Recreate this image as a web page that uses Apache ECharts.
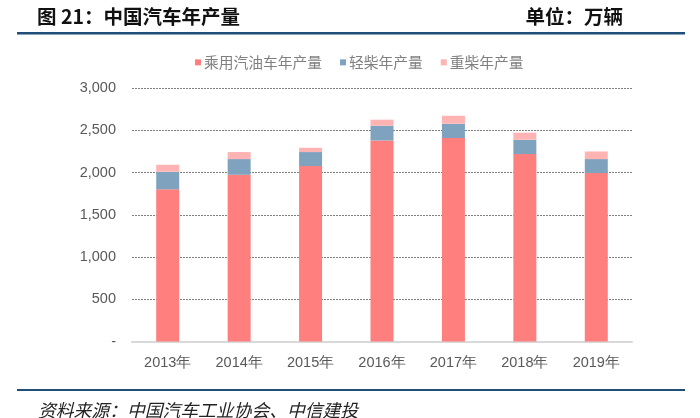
<!DOCTYPE html>
<html>
<head>
<meta charset="utf-8">
<script src="https://cdn.jsdelivr.net/npm/echarts@6/dist/echarts.min.js"></script>
<style>
html,body{margin:0;padding:0;background:#fff;}
#c{width:700px;height:418px;}
</style>
</head>
<body>
<div id="c"></div>
<script>
const categories = ['2013年','2014年','2015年','2016年','2017年','2018年','2019年'];
const gasolinePassenger = [1801, 1973, 2076, 2379, 2408, 2218, 1993];
const lightDiesel = [208, 186, 166, 175, 169, 170, 166];
const heavyDiesel = [83, 83, 51, 71, 95, 83, 90];
const seriesNames = ['乘用汽油车年产量','轻柴年产量','重柴年产量'];
const yTicks = [0, 500, 1000, 1500, 2000, 2500, 3000];

const chart = echarts.init(document.getElementById('c'));
const sans = '"Noto Sans CJK SC", "Noto Sans", sans-serif';
chart.setOption({
  animation: false,
  backgroundColor: '#fff',
  title: [
    {text: '图 21：中国汽车年产量', left: 32, top: 2,
     textStyle: {fontFamily: sans, fontWeight: 'bold', fontSize: 19.5, color: '#111'}},
    {text: '单位：万辆', right: 72, top: 2,
     textStyle: {fontFamily: sans, fontWeight: 'bold', fontSize: 19.5, color: '#111'}},
    {text: '资料来源：中国汽车工业协会、中信建投', left: 33, top: 396,
     textStyle: {fontFamily: sans, fontStyle: 'italic', fontWeight: 'normal', fontSize: 17.8, color: '#222'}}
  ],
  graphic: [
    {type: 'rect', shape: {x: 17, y: 32, width: 668, height: 2.5}, style: {fill: '#1F4E79'}},
    {type: 'rect', shape: {x: 17, y: 389, width: 668, height: 2}, style: {fill: '#1F4E79'}}
  ],
  legend: {
    top: 50, left: 190,
    itemWidth: 6, itemHeight: 6, itemGap: 18,
    icon: 'rect',
    textStyle: {fontFamily: sans, fontSize: 14.75, color: '#808080', padding: [0,0,0,-2]},
    data: seriesNames
  },
  grid: {left: 132, right: 68, top: 88, height: 253.5, containLabel: false},
  xAxis: {
    type: 'category', data: categories,
    axisLine: {lineStyle: {color: '#d9d9d9', width: 2}},
    axisTick: {show: false},
    axisLabel: {fontFamily: 'Liberation Sans, Arial, sans-serif', fontSize: 14.5, color: '#595959', margin: 14}
  },
  yAxis: {
    type: 'value', min: yTicks[0], max: yTicks[yTicks.length-1], interval: 500,
    axisLine: {show: false}, axisTick: {show: false},
    splitLine: {lineStyle: {color: '#7f7f7f', type: [2,1], width: 1}},
    axisLabel: {
      fontFamily: 'Liberation Sans, Arial, sans-serif', fontSize: 14.5, color: '#595959', margin: 16,
      formatter: v => v === 0 ? '-' : v.toLocaleString('en-US')
    }
  },
  series: [
    {name: seriesNames[0], type: 'bar', stack: 't', data: gasolinePassenger, barWidth: 23,
     itemStyle: {color: '#FF7F7F'}},
    {name: seriesNames[1], type: 'bar', stack: 't', data: lightDiesel, barWidth: 23,
     itemStyle: {color: '#7FA3BE'}},
    {name: seriesNames[2], type: 'bar', stack: 't', data: heavyDiesel, barWidth: 23,
     itemStyle: {color: '#FFB3B3'}}
  ]
});
</script>
</body>
</html>
